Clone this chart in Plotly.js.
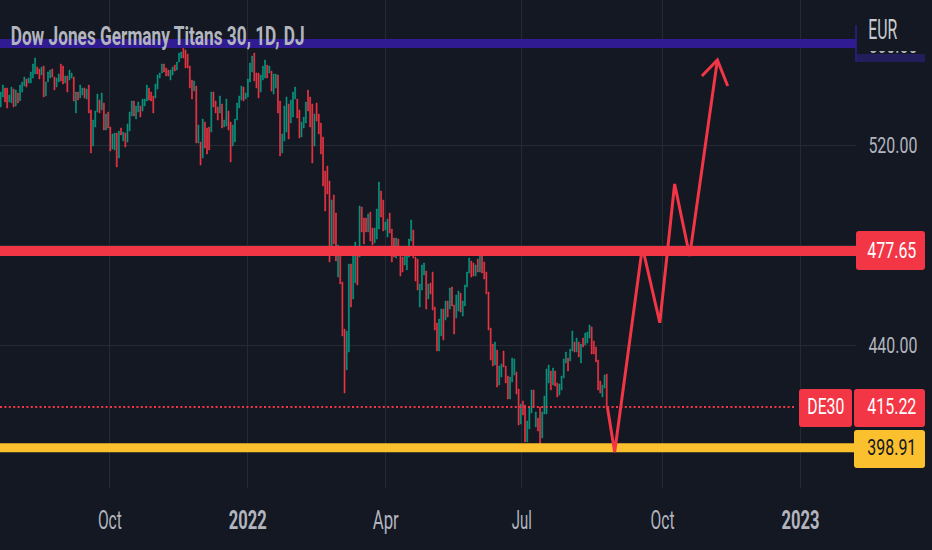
<!DOCTYPE html>
<html><head><meta charset="utf-8">
<script src="https://cdn.plot.ly/plotly-3.0.1.min.js"></script>
<style>html,body{margin:0;padding:0;background:#141823}#c{width:932px;height:550px}</style>
</head><body><div id="c"></div>
<script>
const opens=[535.2,539.2,542.8,542.8,537.2,536.8,542.4,535.6,540.8,537.6,541.2,543.6,546.4,544.8,544.8,546.8,548.4,551.2,550.4,548.0,551.6,539.6,545.2,546.8,550.4,547.2,543.2,545.2,552.4,551.6,544.8,547.6,546.0,546.8,547.2,532.8,541.2,538.8,540.0,542.8,538.4,544.0,534.0,519.6,527.2,533.2,538.0,534.0,536.8,526.0,533.2,527.2,518.4,518.0,524.8,514.8,
526.8,521.6,524.8,521.2,525.6,531.6,537.6,530.4,533.2,535.6,533.6,535.6,537.6,542.8,541.2,539.6,538.8,542.4,546.8,548.8,552.4,550.8,550.0,546.0,548.0,552.0,550.0,553.2,554.8,558.8,558.0,556.4,551.6,546.0,541.6,543.6,520.8,521.2,514.8,529.2,526.8,527.2,525.2,541.2,537.6,535.2,532.8,536.4,527.2,527.6,533.6,529.2,519.6,521.2,530.0,534.8,
538.0,543.2,538.4,539.2,545.2,549.2,556.8,548.8,548.8,541.2,546.0,546.8,552.0,548.8,549.6,540.4,542.8,548.0,537.6,516.8,521.6,525.2,536.4,528.8,531.2,538.4,538.4,534.0,523.2,526.8,528.8,542.0,539.2,536.4,519.6,536.8,532.4,528.8,523.2,509.6,511.6,505.6,476.8,500.0,492.8,467.2,476.0,465.2,446.4,430.0,437.2,472.4,458.4,464.8,476.0,475.2,495.2,490.8,490.8,485.2,493.2,486.8,480.8,482.4,486.4,501.6,498.0,486.0,483.2,492.8,486.4,482.8,474.8,482.4,475.6,475.2,472.0,470.0,475.2,481.6,486.0,475.2,474.4,455.2,462.0,468.0,469.6,458.4,464.8,469.2,455.2,448.8,437.6,
443.6,454.4,450.0,457.6,454.4,463.2,456.0,450.8,453.6,460.8,451.6,455.6,463.2,468.8,473.6,472.8,467.6,474.4,469.2,475.6,473.2,469.2,461.2,446.8,440.4,432.0,438.0,424.0,427.2,437.6,431.6,427.6,418.4,425.2,428.0,429.2,422.4,408.4,417.6,416.0,401.2,
406.4,412.8,422.0,407.2,410.8,415.2,402.8,412.4,412.4,424.8,429.6,424.0,429.6,424.8,420.0,422.0,426.8,432.8,434.8,433.6,437.6,441.2,437.2,441.2,432.8,442.8,440.0,440.8,442.8,447.2,441.6,439.2,434.0,425.6,419.2,422.8,428.4];
const closes=[541.2,544.0,537.2,534.8,540.0,543.2,535.2,542.0,536.8,544.0,545.2,547.2,543.2,546.8,549.2,552.4,554.8,548.4,546.4,551.2,539.2,545.2,549.2,550.0,547.2,542.0,546.8,548.4,545.6,544.4,547.6,541.2,550.0,548.8,537.6,541.2,538.0,544.0,542.8,538.8,542.4,532.8,516.8,530.0,533.6,540.4,532.8,540.8,526.0,532.4,526.8,517.6,524.4,524.8,511.2,525.6,
524.0,525.2,519.2,528.4,533.2,537.6,531.6,535.6,537.2,531.2,538.4,538.4,544.0,538.0,537.6,532.8,544.4,548.0,548.8,552.4,549.2,547.6,547.6,550.0,551.2,549.6,553.2,556.8,557.2,554.8,550.8,550.8,542.8,538.4,545.6,520.8,528.0,512.0,530.4,518.8,516.4,518.0,541.2,535.2,532.8,530.0,539.6,526.8,530.0,538.4,526.0,513.2,528.0,530.4,536.8,539.6,
543.6,537.6,540.8,546.4,552.8,555.6,545.6,542.8,538.8,548.0,551.6,554.0,546.8,551.6,541.6,548.4,548.4,532.8,515.6,524.4,535.6,539.2,522.4,538.0,541.2,543.2,530.8,522.8,529.2,531.2,537.2,533.6,527.2,512.8,532.4,529.6,524.4,516.4,503.6,493.6,500.4,473.2,498.0,480.4,473.6,480.0,464.4,443.6,420.8,445.6,472.4,455.2,476.0,481.2,464.0,495.6,485.2,480.4,485.2,492.4,481.6,480.0,486.8,494.4,505.2,491.2,485.6,489.2,490.4,484.8,473.2,475.2,482.8,478.0,467.6,469.2,476.8,477.2,482.4,490.0,474.8,465.6,462.0,464.4,472.0,472.8,454.4,464.4,460.4,454.0,446.0,437.6,450.4,
454.4,442.0,457.6,451.2,462.8,455.6,444.4,460.0,461.6,453.2,457.6,464.0,469.2,474.8,467.2,467.6,472.0,469.2,477.2,468.8,466.4,460.4,446.0,434.0,431.6,441.2,423.2,431.6,432.4,431.2,424.8,418.4,427.2,434.8,434.4,420.4,408.0,416.4,412.0,401.2,409.6,
415.2,422.0,415.2,413.2,405.6,399.2,413.2,419.6,430.4,432.0,422.0,430.8,423.6,419.2,424.4,427.6,434.4,437.2,429.6,438.4,445.6,437.2,442.8,435.2,440.4,439.2,444.8,445.2,448.0,436.4,436.4,433.2,422.0,420.8,424.0,428.0,415.22];
const levelPurple=560.6, levelRed=477.65, levelYellow=398.91, lastPrice=415.22;
const pathBars=[282.3,285.7,298.6,306.7,313.6,320.6,333.5];
const pathPrices=[415.2,397.2,479.2,448.9,504.4,475.6,554.0];
const arrowBars=[326.3,333.5,338.3];
const arrowPrices=[547.6,554.0,543.6];
const axisBars=[-0.33,398];
const priceTicks=[400,440,480,520,560];
const priceLabels=['400.00','440.00','480.00','520.00','560.00'];
const timeTicks=[50.8,115,179.2,242.5,308,372.2];
const timeLabels=['Oct','<b>2022</b>','Apr','Jul','Oct','<b>2023</b>'];

const RED='#f23645',GREEN='#089981',YEL='#fbc02d',PUR='#311b92',BG='#141823',TXT='#b2b5be';
const FONT='Roboto,sans-serif';
const idx=opens.map((_,i)=>i);
const hline=(v,c,w)=>({type:'scatter',mode:'lines',x:axisBars,y:[v,v],line:{color:c,width:w},hoverinfo:'skip',showlegend:false});
const traces=[
 {type:'candlestick',x:idx,open:opens,close:closes,
  high:opens.map((o,i)=>Math.max(o,closes[i])),low:opens.map((o,i)=>Math.min(o,closes[i])),
  increasing:{line:{color:GREEN,width:0.6},fillcolor:GREEN},
  decreasing:{line:{color:RED,width:0.6},fillcolor:RED},whiskerwidth:0,showlegend:false},
 {type:'scatter',mode:'lines',x:[axisBars[0],370],y:[lastPrice,lastPrice],line:{color:RED,width:2,dash:'2px,2.4px'},hoverinfo:'skip',showlegend:false},
 hline(levelPurple,PUR,9),hline(levelRed,RED,10),hline(levelYellow,YEL,9),
 {type:'scatter',mode:'lines',x:pathBars,y:pathPrices,line:{color:RED,width:3},hoverinfo:'skip',showlegend:false},
 {type:'scatter',mode:'lines',x:arrowBars,y:arrowPrices,line:{color:RED,width:3},hoverinfo:'skip',showlegend:false}
];
const PW=856,PH=488;
const px=x=>x/PW, py=y=>1-y/PH;
const rr=(x0,y0,x1,y1,c)=>{const r=3;return {type:'path',xref:'paper',yref:'paper',layer:'above',fillcolor:c,line:{width:0},
 path:`M${px(x0+r)},${py(y0)} L${px(x1-r)},${py(y0)} Q${px(x1)},${py(y0)} ${px(x1)},${py(y0+r)} L${px(x1)},${py(y1-r)} Q${px(x1)},${py(y1)} ${px(x1-r)},${py(y1)} L${px(x0+r)},${py(y1)} Q${px(x0)},${py(y1)} ${px(x0)},${py(y1-r)} L${px(x0)},${py(y0+r)} Q${px(x0)},${py(y0)} ${px(x0+r)},${py(y0)} Z`};};
const label=(txt,xc,v,fg)=>({xref:'paper',yref:'y',x:px(xc),y:v,xanchor:'center',yanchor:'middle',text:txt,showarrow:false,font:{family:FONT,size:22,color:fg}});
const layout={
 width:932,height:550,margin:{l:0,r:76,t:0,b:62,pad:0},paper_bgcolor:BG,plot_bgcolor:BG,showlegend:false,boxgap:0.35,
 xaxis:{range:axisBars,rangeslider:{visible:false},tickmode:'array',tickvals:timeTicks,ticktext:timeLabels,showgrid:true,gridcolor:'#262a35',gridwidth:1,zeroline:false,showline:false,ticks:'outside',ticklen:10,tickcolor:'rgba(0,0,0,0)',tickfont:{family:FONT,size:25,color:TXT},automargin:false},
 yaxis:{range:[382.8,578],side:'right',tickmode:'array',tickvals:priceTicks,ticktext:priceLabels,showgrid:true,gridcolor:'#262a35',gridwidth:1,zeroline:false,showline:false,ticks:'outside',ticklen:7,tickcolor:'rgba(0,0,0,0)',tickfont:{family:FONT,size:22,color:TXT},automargin:false},
 shapes:[
  {type:'rect',xref:'paper',yref:'paper',x0:1,x1:px(932),y0:py(51),y1:py(0),fillcolor:BG,line:{width:0},layer:'above'},
  {type:'rect',xref:'paper',yref:'paper',x0:1,x1:px(925),y0:py(62),y1:py(54),fillcolor:'#241d5c',line:{width:0},layer:'above'},
  {type:'line',xref:'paper',yref:'paper',x0:1,x1:1,y0:py(62),y1:py(25),line:{color:PUR,width:1.5},layer:'above'},
  rr(856,231,925,270,RED),rr(799,389,852,427,RED),rr(854,389,925,427,RED),rr(854,430,925,468,YEL)
 ],
 annotations:[
  {xref:'paper',yref:'paper',x:px(157),y:py(36),xanchor:'center',yanchor:'middle',text:'<b>Dow Jones Germany Titans 30, 1D, DJ</b>',showarrow:false,font:{family:FONT,size:26,color:TXT}},
  {xref:'paper',yref:'paper',x:px(882.5),y:py(30),xanchor:'center',yanchor:'middle',text:'EUR',showarrow:false,font:{family:FONT,size:27,color:'#c8cad1'}},
  label('477.65',892,levelRed,'#fff'),
  label('DE30',826,lastPrice,'#fff'),
  label('415.22',892,lastPrice,'#fff'),
  label('398.91',892,levelYellow,'#131722')
 ]
};
const widths={'Dow Jones Germany Titans 30, 1D, DJ':294,'EUR':29,'DE30':37,'2022':38,'2023':38,'Oct':24,'Apr':26,'Jul':20};
Plotly.newPlot('c',traces,layout,{displayModeBar:false,staticPlot:true}).then(()=>{
 document.querySelectorAll('#c .xtick text,#c .ytick text,#c .annotation-text').forEach(t=>{
  const s=t.textContent.trim(); const w=widths[s]||49;
  t.setAttribute('textLength',w); t.setAttribute('lengthAdjust','spacingAndGlyphs');
  t.querySelectorAll('tspan').forEach(n=>{n.setAttribute('textLength',w);n.setAttribute('lengthAdjust','spacingAndGlyphs');});
 });
});
</script></body></html>
